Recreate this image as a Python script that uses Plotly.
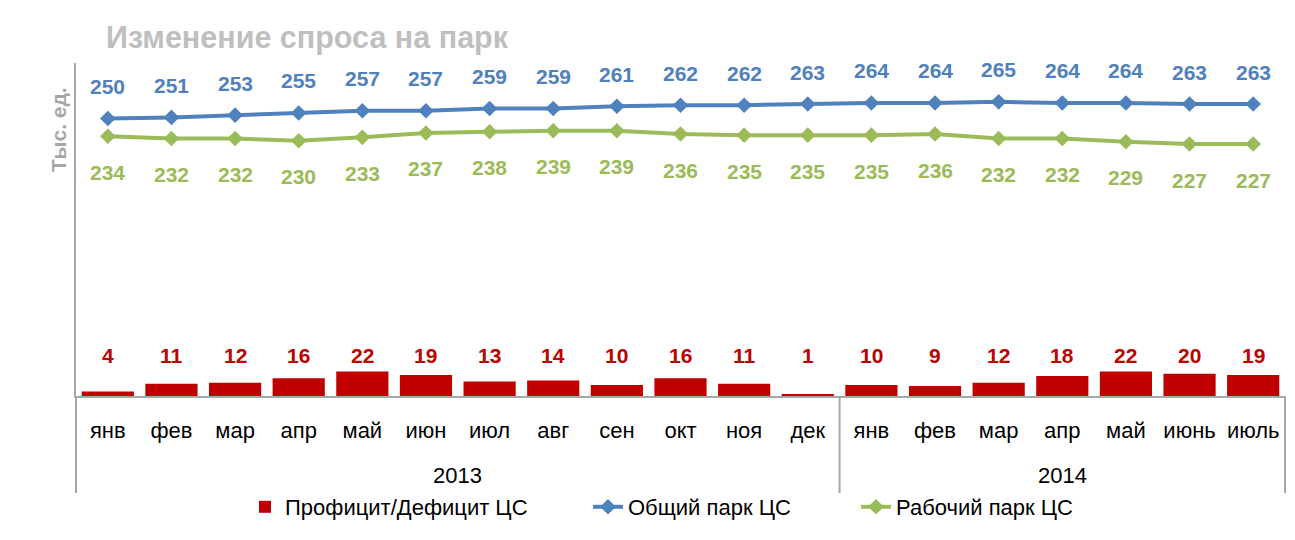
import plotly.graph_objects as go

years = ["2013"] * 12 + ["2014"] * 7
months = ["янв", "фев", "мар", "апр", "май", "июн", "июл", "авг", "сен", "окт", "ноя", "дек",
          "янв", "фев", "мар", "апр", "май", "июнь", "июль"]
total_park = [250, 251, 253, 255, 257, 257, 259, 259, 261, 262, 262, 263, 264, 264, 265, 264, 264, 263, 263]
work_park = [234, 232, 232, 230, 233, 237, 238, 239, 239, 236, 235, 235, 235, 236, 232, 232, 229, 227, 227]
surplus = [4, 11, 12, 16, 22, 19, 13, 14, 10, 16, 11, 1, 10, 9, 12, 18, 22, 20, 19]

FONT = "Liberation Sans, Arial, sans-serif"
RED, BLUE, GREEN = "#c00000", "#4f81bd", "#9bbb59"
AXIS = "#a6a6a6"

# unique category keys (month + year), shown with month names only
keys = [f"{m} {y}" for m, y in zip(months, years)]
n = len(keys)

W, H = 1280, 532
L, R, T, B = 68, 3, 55, 144
PW, PH = W - L - R, H - T - B

fig = go.Figure()
fig.add_trace(go.Bar(x=keys, y=surplus, name="Профицит/Дефицит ЦС", marker_color=RED,
                     marker_line_width=0, legend="legend"))
fig.add_trace(go.Scatter(x=keys, y=total_park, name="Общий парк ЦС", mode="lines+markers",
                         line=dict(color=BLUE, width=4),
                         marker=dict(symbol="diamond", size=12, color=BLUE), legend="legend2"))
fig.add_trace(go.Scatter(x=keys, y=work_park, name="Рабочий парк ЦС", mode="lines+markers",
                         line=dict(color=GREEN, width=4),
                         marker=dict(symbol="diamond", size=12, color=GREEN), legend="legend3"))

LBL = 21
annotations = []
for k, v in zip(keys, total_park):
    annotations.append(dict(x=k, y=v, xref="x", yref="y", text=str(v), showarrow=False,
                            yanchor="middle", yshift=32,
                            font=dict(family=FONT, size=LBL, color=BLUE, weight="bold")))
for k, v in zip(keys, work_park):
    annotations.append(dict(x=k, y=v, xref="x", yref="y", text=str(v), showarrow=False,
                            yanchor="middle", yshift=-36,
                            font=dict(family=FONT, size=LBL, color=GREEN, weight="bold")))
for k, v in zip(keys, surplus):
    annotations.append(dict(x=k, y=41 / PH, xref="x", yref="paper", text=str(v), showarrow=False,
                            yanchor="middle",
                            font=dict(family=FONT, size=LBL, color=RED, weight="bold")))

# year group labels and dividers
groups = []
for y in years:
    if not groups or groups[-1][0] != y:
        groups.append([y, 0])
    groups[-1][1] += 1
shapes = [dict(type="line", xref="paper", yref="paper", x0=0, x1=0, y0=0, y1=-97 / PH,
               line=dict(color=AXIS, width=2))]
start = 0
for name, cnt in groups:
    annotations.append(dict(x=(start + cnt / 2) / n, y=-79 / PH, xref="paper", yref="paper",
                            text=name, showarrow=False, xanchor="center", yanchor="middle",
                            font=dict(family=FONT, size=22, color="black")))
    start += cnt
    shapes.append(dict(type="line", xref="paper", yref="paper", x0=start / n, x1=start / n,
                       y0=0, y1=-97 / PH, line=dict(color=AXIS, width=2)))

annotations.append(dict(x=-18 / PW, y=(388 - 122) / PH, xref="paper", yref="paper", text="Тыс. ед.",
                        textangle=-90, showarrow=False, xanchor="center", yanchor="middle",
                        font=dict(family=FONT, size=21, color=AXIS, weight="bold")))

leg_font = dict(family=FONT, size=22, color="black")
leg_y = -111 / PH


def leg(px):
    return dict(orientation="h", x=(px - 8 - L) / PW, xanchor="left", y=leg_y, yanchor="middle",
                font=leg_font, bgcolor="rgba(0,0,0,0)")


fig.update_layout(
    width=W, height=H,
    margin=dict(l=L, r=R, t=T, b=B, autoexpand=False),
    paper_bgcolor="white", plot_bgcolor="white",
    font=dict(family=FONT, size=21, color="black"),
    shapes=shapes,
    title=dict(text="Изменение спроса на парк", x=98 / W, xanchor="left", xref="container",
               y=1 - 29 / H, yanchor="middle", yref="container",
               font=dict(family=FONT, size=30.5, color="#bfbfbf", weight="bold")),
    bargap=0.18,
    showlegend=True,
    legend=leg(245), legend2=leg(588), legend3=leg(856),
    annotations=annotations,
    xaxis=dict(type="category", tickvals=keys, ticktext=months, range=[-0.5, n - 0.5],
               showline=True, linecolor=AXIS, linewidth=2, automargin=False, tickangle=0,
               ticks="", ticklabelstandoff=14,
               tickfont=dict(family=FONT, size=22, color="black"), showgrid=False),
    yaxis=dict(range=[0, 300], showticklabels=False, showgrid=False, zeroline=False,
               showline=True, linecolor=AXIS, linewidth=2, ticks="", automargin=False),
)

fig.write_html("out.html")
